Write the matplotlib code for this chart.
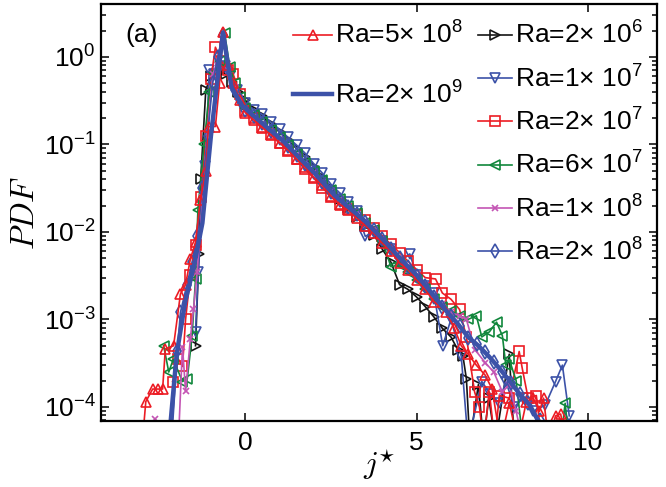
import matplotlib
matplotlib.use("Agg")
import matplotlib.pyplot as plt

plt.rcParams['font.family'] = ['Liberation Sans', 'DejaVu Sans']
plt.rcParams['mathtext.fontset'] = 'custom'
plt.rcParams['mathtext.rm'] = 'Liberation Sans'
plt.rcParams['mathtext.it'] = 'Liberation Sans:italic'
plt.rcParams['mathtext.default'] = 'regular'

# ---------------- data ----------------
labels = ["Ra=5× 10$^{8}$", "Ra=2× 10$^{9}$", "Ra=2× 10$^{6}$", "Ra=1× 10$^{7}$",
          "Ra=2× 10$^{7}$", "Ra=6× 10$^{7}$", "Ra=1× 10$^{8}$", "Ra=2× 10$^{8}$"]

x_2e6 = [-1.45, -1.35, -1.3, -1.15, -1.0, -0.85, -0.7, -0.55, -0.4, -0.2,
         0.0, 0.25, 0.5, 0.75, 1.0, 1.25, 1.5, 1.75, 2.0, 2.25, 2.5, 2.75, 3.0, 3.25,
         3.5, 3.75, 4.0, 4.25, 4.5, 4.75, 5.0, 5.25, 5.5, 5.75,
         6.0, 6.2, 6.35, 6.45, 6.55, 6.8, 6.95, 7.1, 7.3, 7.7, 7.85]
y_2e6 = [5.0e-4, 5.6e-3, 4.0e-2, 0.42, 0.60, 0.63, 0.68, 0.63, 0.52, 0.40,
         0.32, 0.25, 0.21, 0.17, 0.138, 0.112, 0.089, 0.071, 0.055, 0.042, 0.032, 0.024, 0.0186, 0.0148,
         0.0117, 0.0093, 0.0063, 0.0045, 0.0025, 0.0022, 0.0018, 0.0014, 0.00107, 0.00079,
         0.00063, 0.00045, 0.00038, 0.00021, 4e-5, 0.00018, 4e-5, 0.000126, 4e-5, 0.0004, 4e-5]

x_1e7 = [-1.45, -1.37, -1.16, -1.05, -0.9, -0.75, -0.6, -0.45, -0.25,
         0.0, 0.25, 0.5, 0.75, 1.0, 1.25, 1.5, 1.75, 2.0, 2.25, 2.5, 2.75, 3.0, 3.25, 3.5,
         3.75, 4.0, 4.25, 4.5,
         4.8, 5.0, 5.25, 5.5, 5.76, 6.0, 6.3, 6.5, 6.9, 7.15, 7.4, 7.6, 7.85, 8.1, 8.4,
         8.75, 9.05, 9.25, 9.45]
y_1e7 = [7.2e-4, 3.5e-3, 5.6e-2, 0.71, 0.63, 0.76, 0.79, 0.60, 0.42,
         0.30, 0.25, 0.22, 0.18, 0.148, 0.12, 0.098, 0.079, 0.060, 0.047, 0.035, 0.028, 0.022, 0.0174, 0.0089,
         0.0100, 0.0079, 0.0063, 0.0045,
         0.0056, 0.0032, 0.0024, 0.0020, 0.0005, 0.0010, 0.00038, 4e-5, 0.000195, 0.00014, 0.000112, 0.000195, 0.0001, 0.000126, 8.9e-5,
         0.000105, 0.000195, 0.0003, 7.9e-5]

x_2e7 = [-2.12, -1.95, -1.83, -1.74, -1.6, -1.45, -1.3, -1.15, -1.0, -0.87, -0.7, -0.5, -0.35, -0.15,
         0.0, 0.25, 0.5, 0.75, 1.0, 1.25, 1.5, 1.75, 2.0, 2.25, 2.5, 2.75, 3.0, 3.25, 3.5, 3.75,
         4.0, 4.25, 4.5, 4.75, 5.0, 5.25,
         5.55, 5.75, 6.0, 6.25, 6.45, 6.69, 6.83, 6.95, 7.12, 7.28, 7.41, 7.7, 7.99, 8.08, 8.25, 8.49, 8.65]
y_2e7 = [1.95e-4, 3.5e-4, 2.9e-4, 1.0e-3, 3.2e-3, 7.1e-3, 0.025, 0.126, 0.56, 1.29, 0.89, 0.71, 0.63, 0.38,
         0.24, 0.20, 0.16, 0.13, 0.105, 0.085, 0.068, 0.052, 0.041, 0.032, 0.025, 0.021, 0.0185, 0.0158, 0.0135, 0.0112,
         0.0090, 0.0072, 0.0058, 0.0046, 0.0037, 0.0030,
         0.0029, 0.0020, 0.0017, 0.0013, 0.00063, 0.000148, 0.0001, 4e-5, 0.000148, 4e-5, 0.000135, 0.000126, 0.00043, 0.000275, 0.000126, 0.000135, 4e-5]

x_6e7 = [-2.38, -2.23, -2.1, -1.83, -1.69, -1.55, -1.45, -1.38, -1.2, -1.05, -0.9, -0.75, -0.6, -0.45, -0.3, -0.15,
         0.0, 0.25, 0.5, 0.75, 1.0, 1.25, 1.5, 1.75, 2.0, 2.25, 2.5, 2.75, 3.0, 3.25, 3.5, 3.75,
         4.0, 4.25, 4.5, 4.75, 5.0, 5.25, 5.5,
         5.75, 6.0, 6.25, 6.5, 6.74, 6.9, 7.12, 7.33, 7.5, 7.6, 7.7, 7.9, 8.1, 9.2, 9.33, 9.45]
y_6e7 = [5.0e-4, 2.5e-4, 3.5e-4, 1.95e-4, 2.1e-4, 6.5e-4, 2.9e-3, 0.018, 0.1, 0.4, 0.66, 0.89, 1.86, 0.76, 0.5, 0.35,
         0.26, 0.215, 0.18, 0.145, 0.12, 0.098, 0.078, 0.062, 0.050, 0.039, 0.030, 0.024, 0.020, 0.0165, 0.0128, 0.0105,
         0.0078, 0.0040, 0.0042, 0.0035, 0.0028, 0.0022, 0.0017,
         0.0014, 0.00126, 0.0011, 0.001, 0.0011, 0.00063, 0.00072, 0.00093, 0.00065, 0.0003, 0.00035, 0.0002, 4e-5, 4e-5, 0.00011, 4e-5]

x_1e8 = [-2.62, -2.4, -1.95, -1.83, -1.74, -1.6, -1.51, -1.4, -1.25, -1.1, -0.95, -0.8, -0.65, -0.5, -0.3, -0.15,
         0.0, 0.25, 0.5, 0.75, 1.0, 1.25, 1.5, 1.75, 2.0, 2.25, 2.5, 2.75, 3.0, 3.25, 3.5, 3.75,
         4.0, 4.25, 4.5, 4.75, 5.0, 5.25, 5.5, 5.75, 6.0, 6.25,
         6.45, 6.7, 7.0, 7.25, 7.5, 7.7, 7.9, 8.1]
y_1e8 = [7.2e-5, 4e-5, 4e-5, 4.9e-4, 1.5e-4, 6e-4, 1.3e-3, 3.5e-3, 0.025, 0.14, 0.63, 0.9, 1.6, 0.7, 0.45, 0.34,
         0.25, 0.205, 0.17, 0.14, 0.115, 0.094, 0.076, 0.061, 0.048, 0.037, 0.029, 0.0235, 0.0195, 0.016, 0.0132, 0.0107,
         0.0084, 0.0066, 0.0051, 0.0040, 0.0032, 0.0025, 0.0019, 0.0015, 0.0012, 0.0011,
         0.001, 0.00045, 0.00032, 0.00025, 0.000148, 0.00018, 8.9e-5, 4e-5]

x_2e8 = [-2.15, -1.98, -1.89, -1.7, -1.55, -1.4, -1.25, -1.1, -0.95, -0.8, -0.65, -0.5, -0.3, -0.15,
         0.0, 0.25, 0.5, 0.75, 1.0, 1.25, 1.5, 1.75, 2.0, 2.25, 2.5, 2.75, 3.0, 3.25, 3.5, 3.75,
         4.0, 4.25, 4.5, 4.75, 5.0, 5.25, 5.5, 5.75, 6.0, 6.25, 6.5, 6.75, 7.0, 7.25, 7.5, 7.75,
         8.0, 8.25, 8.6]
y_2e8 = [4e-5, 4.3e-4, 1.2e-3, 2.5e-3, 4.5e-3, 8.9e-3, 0.032, 0.126, 0.5, 1.0, 1.8, 0.75, 0.42, 0.32,
         0.25, 0.21, 0.175, 0.142, 0.118, 0.096, 0.076, 0.060, 0.048, 0.037, 0.0285, 0.0232, 0.0193, 0.0160, 0.0131, 0.0104,
         0.0082, 0.0064, 0.0050, 0.0040, 0.0031, 0.0024, 0.0018, 0.0014, 0.0011, 0.00085, 0.00062, 0.00052, 0.00042, 0.00033, 0.00025, 0.00019,
         0.00014, 0.00011, 7.0e-5]

x_5e8 = [-3.0, -2.9, -2.7, -2.55, -2.41, -2.33, -2.09, -1.89, -1.74, -1.6, -1.45, -1.31, -1.15, -1.07, -0.87, -0.75, -0.65, -0.5, -0.35, -0.15,
         0.0, 0.25, 0.5, 0.75, 1.0, 1.25, 1.5, 1.75, 2.0, 2.25, 2.5, 2.75, 3.0, 3.25, 3.5, 3.75,
         4.0, 4.25, 4.5, 4.75, 5.0, 5.25, 5.5,
         5.87, 6.1, 6.3, 6.5, 6.74, 7.0, 7.2, 7.45, 7.7, 7.95, 8.2, 8.4, 8.58, 8.7, 8.85, 9.05, 9.2, 9.35]
y_5e8 = [4e-5, 1.15e-4, 1.6e-4, 1.6e-4, 1.6e-4, 4.6e-4, 5.0e-4, 1.95e-3, 2.5e-3, 4.9e-3, 7.6e-3, 0.023, 0.05, 0.16, 0.16, 0.5, 1.9, 0.8, 0.5, 0.32,
         0.23, 0.19, 0.155, 0.128, 0.104, 0.087, 0.068, 0.055, 0.042, 0.034, 0.026, 0.0205, 0.0178, 0.0145, 0.0118, 0.0096,
         0.0074, 0.0060, 0.0044, 0.0037, 0.0028, 0.0022, 0.0016,
         0.0012, 0.00079, 0.0005, 0.0004, 0.0003, 0.00023, 0.00016, 4e-5, 0.000112, 4e-5, 0.000115, 0.000126, 8.9e-5, 0.000126, 4e-5, 7.9e-5, 8.3e-5, 4e-5]

x_2e9 = [-2.25, -2.0, -1.75, -1.5, -1.25, -1.0, -0.65, -0.4, -0.1, 0.2, 0.5, 0.8, 1.1, 1.4, 1.7, 2.0,
         2.3, 2.6, 2.9, 3.2, 3.5, 3.8, 4.1, 4.4, 4.7, 5.0, 5.3, 5.6, 5.9, 6.2, 6.5, 6.8, 7.1, 7.4,
         7.7, 8.0, 8.3, 8.6]
y_2e9 = [3.2e-5, 4.0e-4, 1.6e-3, 4.0e-3, 0.0126, 0.126, 1.9, 0.45, 0.28, 0.22, 0.174, 0.138, 0.11, 0.083, 0.063, 0.048,
         0.0355, 0.0263, 0.0209, 0.0166, 0.0132, 0.0100, 0.0076, 0.0056, 0.0042, 0.0032, 0.00234, 0.00166, 0.0012, 0.00089, 0.00063, 0.0005, 0.00038, 0.00028,
         0.0002, 0.000141, 0.000105, 6.3e-5]

RED = '#ec1c24'
BLUE = '#3c52a8'
GREEN = '#11873c'
MAG = '#c455b4'
BLACK = '#151515'
FS = 19

fig = plt.figure(figsize=(6.66, 4.87), dpi=100)
ax = fig.add_axes([0.152, 0.1355, 0.834, 0.8565])

mk = dict(fillstyle='none', markersize=7.5, markeredgewidth=1.2, linewidth=1.2)
h2e6, = ax.plot(x_2e6, y_2e6, color=BLACK, marker='>', **mk)
h1e7, = ax.plot(x_1e7, y_1e7, color=BLUE, marker='v', **mk)
h2e7, = ax.plot(x_2e7, y_2e7, color=RED, marker='s', **dict(mk, markersize=6.5))
h6e7, = ax.plot(x_6e7, y_6e7, color=GREEN, marker='<', **mk)
h1e8, = ax.plot(x_1e8, y_1e8, color=MAG, marker='x', **dict(mk, markersize=5))
h2e8, = ax.plot(x_2e8, y_2e8, color=BLUE, marker='d', **mk)
h5e8, = ax.plot(x_5e8, y_5e8, color=RED, marker='^', **mk)
h2e9, = ax.plot(x_2e9, y_2e9, color=BLUE, linewidth=3.2)

ax.set_yscale('log')
ax.set_xlim(-4.2, 12)
ax.set_ylim(6.9e-5, 4.03)
ax.set_xticks([0, 5, 10])
ax.set_yticks([1e-4, 1e-3, 1e-2, 1e-1, 1e0])
ax.tick_params(which='both', direction='in', top=True, right=True, labelsize=FS, width=1.1)
ax.tick_params(which='major', length=6)
ax.tick_params(which='minor', length=3.5)
ax.tick_params(axis='x', pad=7)
ax.tick_params(axis='y', pad=4)
for s in ax.spines.values():
    s.set_linewidth(1.6)

ax.set_ylabel(r'$\mathit{PDF}$', math_fontfamily='cm', fontsize=23.5)
ax.yaxis.set_label_coords(-0.108, 0.5)
ax.set_xlabel(r'$\mathit{j}^{\star}$', math_fontfamily='cm', fontsize=23, labelpad=-6)

ax.text(0.043, 0.926, '(a)', transform=ax.transAxes, fontsize=FS, va='center', ha='left')

leg1 = ax.legend([h5e8, h2e9], labels[:2], loc='upper left', bbox_to_anchor=(0.345, 0.957),
                 frameon=False, fontsize=FS, handlelength=1.5, handletextpad=0.1,
                 labelspacing=1.23, borderpad=0, borderaxespad=0)
ax.add_artist(leg1)
leg2 = ax.legend([h2e6, h1e7, h2e7, h6e7, h1e8, h2e8], labels[2:], loc='upper left',
                 bbox_to_anchor=(0.678, 0.957), frameon=False, fontsize=FS, handlelength=1.3,
                 handletextpad=0.1, labelspacing=0.61, borderpad=0, borderaxespad=0)

fig.savefig('out.png', dpi=100)
